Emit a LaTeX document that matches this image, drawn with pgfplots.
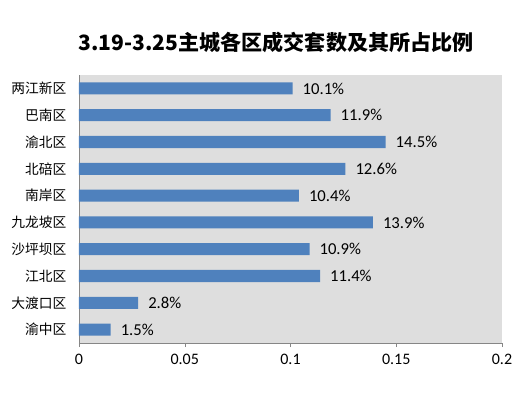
\documentclass[border=0pt]{standalone}
\usepackage{pgfplots}
\pgfplotsset{compat=1.18}
\usepackage{fontspec}
\setmainfont{Carlito}
\newfontfamily\cjk{Noto Sans CJK SC}
\definecolor{barblue}{HTML}{4F81BD}
\definecolor{bg}{HTML}{DEDEDE}
\definecolor{axgray}{HTML}{868686}
\begin{document}
\begin{tikzpicture}
\begin{axis}[
  name=a,
  scale only axis,
  width=317.25pt, height=201pt,
  xbar, bar width=0.45,
  xmin=0, xmax=0.2,
  ymin=-0.5, ymax=9.5,
  axis lines*=left,
  axis line style={axgray},
  axis background/.style={fill=bg},
  xtick={0,0.05,0.1,0.15,0.2},
  xticklabels={0,0.05,0.1,0.15,0.2},
  ytick={0,...,9},
  yticklabels={渝中区,大渡口区,江北区,沙坪坝区,九龙坡区,南岸区,北碚区,渝北区,巴南区,两江新区},
  yticklabel style={font=\cjk\fontsize{10.3pt}{12pt}\selectfont, xshift=-3pt},
  xticklabel style={font=\fontsize{12pt}{14pt}\selectfont, yshift=-2pt},
  tick align=outside,
  x tick style={axgray},
  major tick length=3pt,
  y tick style={draw=none},
  point meta=x*100,
  nodes near coords={\pgfmathprintnumber[fixed,precision=1,fixed zerofill,assume math mode=true]{\pgfplotspointmeta}\%},
  nodes near coords style={font=\fontsize{12.5pt}{14pt}\selectfont, black, anchor=west, xshift=4pt},
  clip=false,
]
\addplot[fill=barblue, draw=none] coordinates {
(0.015,0) (0.028,1) (0.114,2) (0.109,3) (0.139,4) (0.104,5) (0.126,6) (0.145,7) (0.119,8) (0.101,9)
};
\node[font=\cjk\bfseries\fontsize{15.8pt}{18pt}\selectfont] at (rel axis cs:0.466,1.123) {3.19-3.25主城各区成交套数及其所占比例};
\end{axis}
\useasboundingbox ([shift={(-59.25pt,-37.5pt)}]a.south west) rectangle ([shift={(13.5pt,56.25pt)}]a.north east);
\end{tikzpicture}
\end{document}
